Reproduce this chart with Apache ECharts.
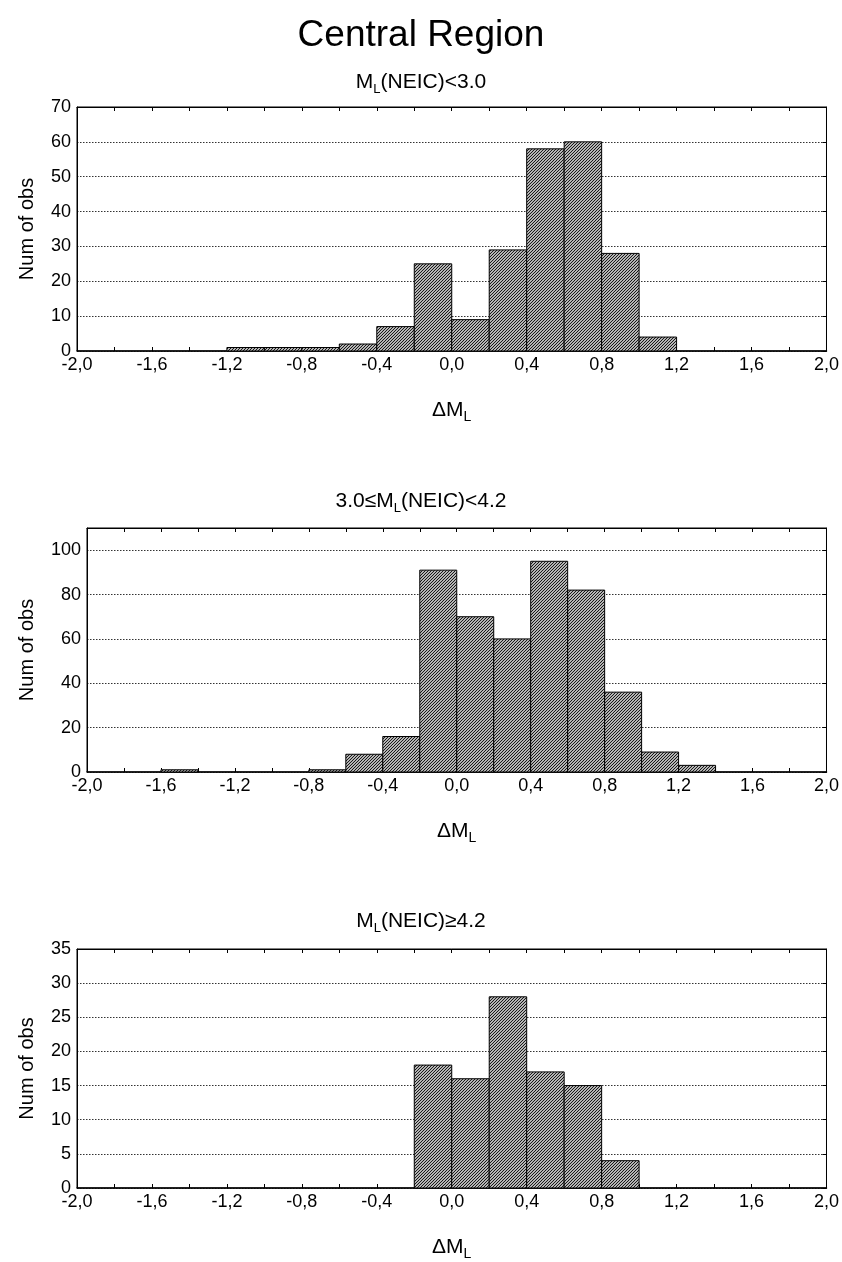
<!DOCTYPE html>
<html>
<head>
<meta charset="utf-8">
<script src="https://cdn.jsdelivr.net/npm/echarts@6/dist/echarts.min.js"></script>
<style>
  html, body { margin: 0; padding: 0; background: #fff; }
  #chart { width: 842px; height: 1262px; }
</style>
</head>
<body>
<div id="chart"></div>
<script>
// histogram bins: start of each 0.2 wide bin of ΔML
const binStarts = [-2.0, -1.8, -1.6, -1.4, -1.2, -1.0, -0.8, -0.6, -0.4, -0.2,
                   0.0, 0.2, 0.4, 0.6, 0.8, 1.0, 1.2, 1.4, 1.6, 1.8]
const binWidth = 0.2

// Num of obs per bin, one array per magnitude class
const countsLow  = [0, 0, 0, 0, 1, 1, 1, 2, 7, 25, 9, 29, 58, 60, 28, 4, 0, 0, 0, 0]
const countsMid  = [0, 0, 1, 0, 0, 0, 1, 8, 16, 91, 70, 60, 95, 82, 36, 9, 3, 0, 0, 0]
const countsHigh = [0, 0, 0, 0, 0, 0, 0, 0, 0, 18, 16, 28, 17, 15, 4, 0, 0, 0, 0, 0]

const panelTitles = ['M{s|L}(NEIC)<3.0', '3.0≤M{s|L}(NEIC)<4.2', 'M{s|L}(NEIC)≥4.2']
const yMax = [70, 110, 35]
const yStep = [10, 20, 5]

const FONT = "'Liberation Sans', Arial, sans-serif"

// diagonal hatch used for the bars
const makeHatch = () => {
  const c = document.createElement('canvas')
  c.width = 3
  c.height = 3
  const ctx = c.getContext('2d')
  ctx.fillStyle = '#fff'
  ctx.fillRect(0, 0, 3, 3)
  ctx.strokeStyle = '#111'
  ctx.lineWidth = 1.2
  ctx.beginPath()
  ctx.moveTo(-1, 4); ctx.lineTo(4, -1)
  ctx.moveTo(-1, 1); ctx.lineTo(1, -1)
  ctx.moveTo(2, 4); ctx.lineTo(4, 2)
  ctx.stroke()
  return c
}
const hatch = makeHatch()

const chart = echarts.init(document.getElementById('chart'))

const grids = [
  { left: 77, right: 15, top: 107, height: 244 },
  { left: 87, right: 15, top: 528, height: 244 },
  { left: 77, right: 15, top: 949, height: 245 }
].map(g => Object.assign(g, { show: true, borderColor: '#000', borderWidth: 1 }))

const fmtX = v => v.toFixed(1).replace('.', ',')

const xAxes = []
const yAxes = []
const series = []
const titles = [{
  text: 'Central Region',
  left: 'center',
  top: 12,
  textStyle: { fontFamily: FONT, fontSize: 37, fontWeight: 'normal', color: '#000' }
}]
const titleTops = [64, 483, 903]
const allCounts = [countsLow, countsMid, countsHigh]

grids.forEach((g, i) => {
  titles.push({
    text: panelTitles[i],
    left: 'center',
    top: titleTops[i],
    textStyle: {
      fontFamily: FONT, fontSize: 21, fontWeight: 'normal', color: '#000', lineHeight: 27,
      rich: {
        s: { fontFamily: FONT, fontSize: 13, lineHeight: 13, verticalAlign: 'bottom', color: '#000' }
      }
    }
  })

  xAxes.push({
    gridIndex: i,
    type: 'value',
    position: 'bottom',
    min: -2,
    max: 2,
    interval: 0.4,
    name: 'ΔM{s|L}',
    nameLocation: 'middle',
    nameGap: 46,
    nameTextStyle: {
      fontFamily: FONT, fontSize: 21, color: '#000', lineHeight: 27,
      rich: { s: { fontFamily: FONT, fontSize: 14, lineHeight: 14, verticalAlign: 'bottom', color: '#000' } }
    },
    axisLine: { onZero: false, lineStyle: { color: '#000', width: 1.5 } },
    axisTick: { inside: true, length: 4, lineStyle: { color: '#000' } },
    minorTick: { show: true, splitNumber: 2, length: 4, lineStyle: { color: '#000' } },
    splitLine: { show: false },
    axisLabel: { fontFamily: FONT, fontSize: 18, color: '#000', margin: 5, formatter: fmtX }
  })
  xAxes.push({
    gridIndex: i,
    type: 'value',
    position: 'top',
    min: -2,
    max: 2,
    interval: 0.4,
    axisLine: { onZero: false, lineStyle: { color: '#000' } },
    axisTick: { inside: true, length: 4, lineStyle: { color: '#000' } },
    minorTick: { show: true, splitNumber: 2, length: 4, lineStyle: { color: '#000' } },
    splitLine: { show: false },
    axisLabel: { show: false }
  })

  yAxes.push({
    gridIndex: i,
    type: 'value',
    position: 'left',
    min: 0,
    max: yMax[i],
    interval: yStep[i],
    name: 'Num of obs',
    nameLocation: 'middle',
    nameGap: g.left - 37,
    nameTextStyle: { fontFamily: FONT, fontSize: 20, color: '#000' },
    axisLine: { show: true, onZero: false, lineStyle: { color: '#000' } },
    axisTick: { show: false },
    splitLine: { show: true, lineStyle: { color: '#333', type: [1.5, 1.5], width: 1 } },
    axisLabel: {
      fontFamily: FONT, fontSize: 18, color: '#000', margin: 6,
      showMaxLabel: yMax[i] % yStep[i] === 0
    }
  })
  yAxes.push({
    gridIndex: i,
    type: 'value',
    position: 'right',
    min: 0,
    max: yMax[i],
    interval: yStep[i],
    axisLine: { show: true, onZero: false, lineStyle: { color: '#000' } },
    axisTick: { show: true, inside: true, length: 4, lineStyle: { color: '#000' } },
    splitLine: { show: false },
    axisLabel: { show: false }
  })

  const data = binStarts.map((s, k) => [s, s + binWidth, allCounts[i][k]])
  series.push({
    type: 'custom',
    xAxisIndex: 2 * i,
    yAxisIndex: 2 * i,
    data: data,
    encode: { x: [0, 1], y: 2 },
    silent: true,
    renderItem: (params, api) => {
      const n = api.value(2)
      if (!n) return
      const p0 = api.coord([api.value(0), n])
      const p1 = api.coord([api.value(1), 0])
      return {
        type: 'rect',
        shape: { x: p0[0], y: p0[1], width: p1[0] - p0[0], height: p1[1] - p0[1] },
        style: { fill: { image: hatch, repeat: 'repeat' }, stroke: '#000', lineWidth: 1 }
      }
    }
  })
})

chart.setOption({
  backgroundColor: '#fff',
  animation: false,
  title: titles,
  grid: grids,
  xAxis: xAxes,
  yAxis: yAxes,
  series: series
})
</script>
</body>
</html>
